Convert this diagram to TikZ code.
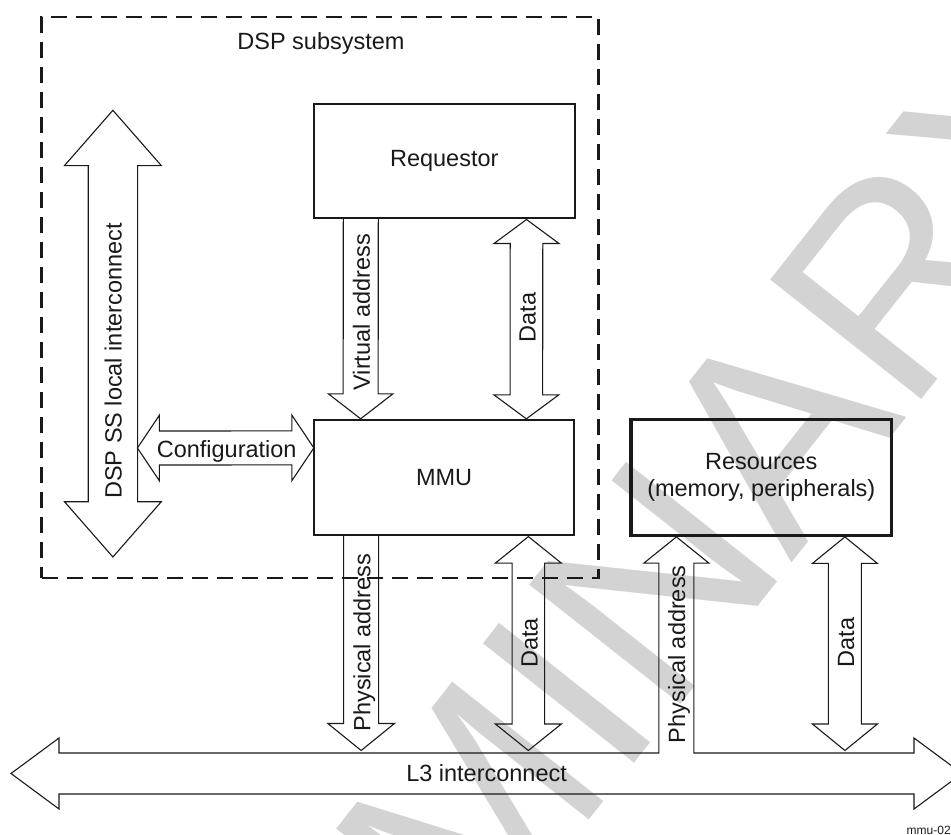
\documentclass[tikz,border=0pt]{standalone}
\usepackage{fontspec}
\setmainfont{Liberation Sans}
\newfontfamily\wmfont[Kerning=Off]{Liberation Sans}
\usetikzlibrary{calc}
\definecolor{wmgray}{RGB}{211,211,211}
\definecolor{ink}{RGB}{25,25,25}
\newcommand\lblfont{\fontsize{23.5}{27.3}\selectfont}
\tikzset{
  arrshape/.style={draw=ink, line width=1.1pt, line join=miter},
  blkbox/.style={draw=ink, line width=2.2pt, minimum width=260.5pt, minimum height=114.8pt,
    inner sep=0pt, outer sep=0pt, font=\lblfont, text=ink},
  lbltxt/.style={font=\lblfont, text=ink, inner sep=0pt, outer sep=0pt},
  dashbox/.style={draw=ink, line width=2.4pt, dash pattern=on 16pt off 9pt,
    minimum width=557pt, minimum height=561pt, inner sep=0pt, outer sep=0pt},
  wmtxt/.style={font=\wmfont\fontsize{280}{300}\selectfont, text=wmgray, inner sep=0pt, outer sep=0pt}
}
% vertical double arrow: top tip, bottom tip, shaft half, head half, head length
\newcommand\dblV[5]{\draw[arrshape] (#1) -- ($(#1)+(#4,#5)$) -- ($(#1)+(#3,#5)$) -- ($(#2)+(#3,-#5)$) -- ($(#2)+(#4,-#5)$) -- (#2) -- ($(#2)+(-#4,-#5)$) -- ($(#2)+(-#3,-#5)$) -- ($(#1)+(-#3,#5)$) -- ($(#1)+(-#4,#5)$) -- cycle;}
% vertical single arrow down: start (on box), tip, shaft half, head half, head length
\newcommand\sglV[5]{\draw[arrshape] ($(#1)+(-#3,0)$) -- ($(#2)+(-#3,-#5)$) -- ($(#2)+(-#4,-#5)$) -- (#2) -- ($(#2)+(#4,-#5)$) -- ($(#2)+(#3,-#5)$) -- ($(#1)+(#3,0)$);}
% horizontal double arrow: left tip, right tip, shaft half, head half, head length
\newcommand\dblH[5]{\draw[arrshape] (#1) -- ($(#1)+(#5,-#4)$) -- ($(#1)+(#5,-#3)$) -- ($(#2)+(-#5,-#3)$) -- ($(#2)+(-#5,-#4)$) -- (#2) -- ($(#2)+(-#5,#4)$) -- ($(#2)+(-#5,#3)$) -- ($(#1)+(#5,#3)$) -- ($(#1)+(#5,#4)$) -- cycle;}

\begin{document}
\begin{tikzpicture}[x=1pt,y=-1pt]
\useasboundingbox (0,0) rectangle (951,835);
\clip (0,0) rectangle (951,835);

% watermark
\node[wmtxt, rotate=51.7, anchor=base west] (wm) at (-27.6,1601.6) {PRELIMINARY};

% boxes
\node[dashbox] (dsp) at (320,297.5) {};
\node[lbltxt, anchor=base] (dsplbl) at (321,49.5) {DSP subsystem};
\node[blkbox, line width=2pt] (req) at (444.25,160.9) {Requestor};
\node[blkbox] (mmu) at (444.1,477.7) {MMU};
\node[blkbox, line width=3.5pt, minimum width=260.8pt, minimum height=116pt, align=center] (res) at (761.3,477.4) {Resources\\(memory, peripherals)};

% coordinates
\coordinate (l3top) at (0,753);
\coordinate (vaS) at ($(req.south west)+(46.8,0)$);
\coordinate (vaE) at ($(mmu.north west)+(46.8,-1.5)$);
\coordinate (d1T) at ($(req.south west)+(212.5,1.2)$);
\coordinate (d1B) at ($(mmu.north west)+(212.5,-1.5)$);
\coordinate (paS) at ($(mmu.south west)+(47.3,0)$);
\coordinate (paE) at ($(paS |- l3top)+(0,-2.5)$);
\coordinate (d2T) at ($(mmu.south west)+(214.5,1.5)$);
\coordinate (d2B) at ($(d2T |- l3top)+(0,-2.5)$);
\coordinate (d3T) at ($(res.south west)+(214,1.5)$);
\coordinate (d3B) at ($(d3T |- l3top)+(0,-2.5)$);
\coordinate (pa2T) at ($(res.south west)+(45.5,1.5)$);
\coordinate (dspT) at (112.9,110.3);
\coordinate (dspB) at (112.9,557);
\coordinate (cfL) at (137.4,448);
\coordinate (cfR) at ($(mmu.north west)+(0,27.6)$);
\coordinate (l3L) at (11,773.5);
\coordinate (l3R) at (962,773.5);

% arrows
\dblV{dspT}{dspB}{24.7}{48.4}{55.3}
\dblH{cfL}{cfR}{17}{32.8}{22}
\sglV{vaS}{vaE}{17.5}{32.3}{25}
\dblV{d1T}{d1B}{16.3}{32.5}{24}
\sglV{paS}{paE}{17.5}{33.3}{27}
\dblV{d2T}{d2B}{16.3}{33}{26.5}
\dblV{d3T}{d3B}{16.5}{32.5}{26.5}
% L3 interconnect merged with physical address to resources
\draw[arrshape] (l3L) -- ($(l3L)+(48,-35.5)$) -- ($(l3L)+(48,-20.5)$)
  -- ($(pa2T |- l3top)+(-17.5,0)$) -- ($(pa2T)+(-17.5,26.2)$) -- ($(pa2T)+(-32.5,26.2)$) -- (pa2T)
  -- ($(pa2T)+(32.5,26.2)$) -- ($(pa2T)+(17.5,26.2)$) -- ($(pa2T |- l3top)+(17.5,0)$)
  -- ($(l3R)+(-48,-20.5)$) -- ($(l3R)+(-48,-35.5)$) -- (l3R) -- ($(l3R)+(-48,35.5)$)
  -- ($(l3R)+(-48,20.5)$) -- ($(l3L)+(48,20.5)$) -- ($(l3L)+(48,35.5)$) -- cycle;

% labels
\node[lbltxt, rotate=90, anchor=base] (ldsp) at (121.5,361) {DSP SS local interconnect};
\node[lbltxt, anchor=base] (lcfg) at (226.7,457.5) {Configuration};
\node[lbltxt, rotate=90, anchor=base] (lva) at (369.8,312.3) {Virtual address};
\node[lbltxt, rotate=90, anchor=base] (ld1) at (535.5,317.5) {Data};
\node[lbltxt, rotate=90, anchor=base] (lpa) at (370.3,642.5) {Physical address};
\node[lbltxt, rotate=90, anchor=base] (ld2) at (537.5,643) {Data};
\node[lbltxt, rotate=90, anchor=base] (lpa2) at (685,654.2) {Physical address};
\node[lbltxt, rotate=90, anchor=base] (ld3) at (854,642.5) {Data};
\node[lbltxt, anchor=base] (ll3) at (486.6,781.5) {L3 interconnect};
\node[font=\fontsize{12}{14}\selectfont, text=ink, anchor=base west, inner sep=0pt] (fig) at (906.5,834) {mmu-02};
\end{tikzpicture}
\end{document}
